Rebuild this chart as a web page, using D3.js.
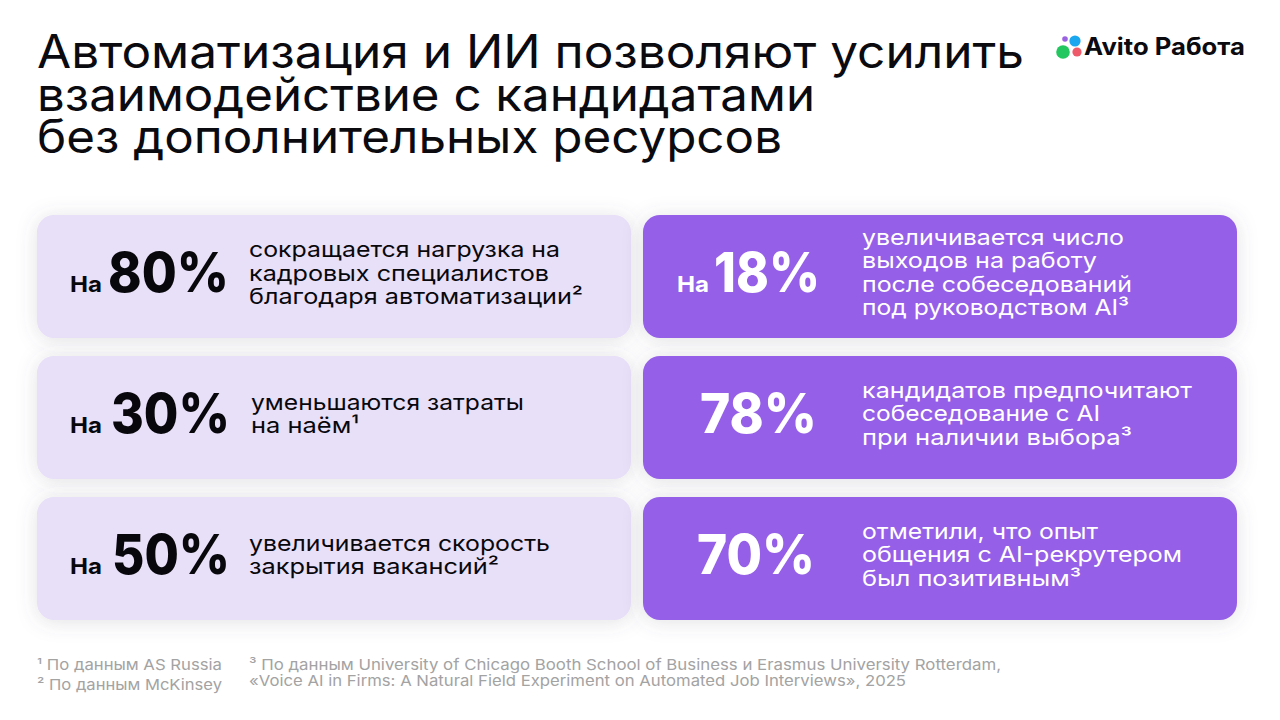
<!DOCTYPE html>
<html lang="ru">
<head>
<meta charset="utf-8">
<script src="https://cdn.jsdelivr.net/npm/d3@7"></script>
<style>
    html, body { margin: 0; background: #fff; }
    svg { display: block; }
    text { font-family: Inter, "Open Sans", sans-serif; }
</style>
</head>
<body>
<svg id="chart" width="1280" height="720"></svg>
<script>
'use strict'

const titleLines = [
    'Автоматизация и ИИ позволяют усилить',
    'взаимодействие с кандидатами',
    'без дополнительных ресурсов',
]
const columns = ['left', 'right']
const rows = [0, 1, 2]
const percents = [80, 30, 50, 18, 78, 70]
const prefixes = ['На', 'На', 'На', 'На', '', '']
const captions = [
    ['сокращается нагрузка на', 'кадровых специалистов', 'благодаря автоматизации²'],
    ['уменьшаются затраты', 'на наём¹'],
    ['увеличивается скорость', 'закрытия вакансий²'],
    ['увеличивается число', 'выходов на работу', 'после собеседований', 'под руководством AI³'],
    ['кандидатов предпочитают', 'собеседование с AI', 'при наличии выбора³'],
    ['отметили, что опыт', 'общения с AI-рекрутером', 'был позитивным³'],
]
const footnotesLeft = ['¹ По данным AS Russia', '² По данным McKinsey']
const footnotesRight = [
    '³ По данным University of Chicago Booth School of Business и Erasmus University Rotterdam,',
    '«Voice AI in Firms: A Natural Field Experiment on Automated Job Interviews», 2025',
]
const logoText = 'Avito Работа'

const captionEdges = [
    {x: 249, ends: [560, 549, 583]},
    {x: 251, ends: [524, 359]},
    {x: 249, ends: [550, 499]},
    {x: 862, ends: [1124, 1097, 1132, 1129]},
    {x: 862, ends: [1192, 1100, 1132]},
    {x: 862, ends: [1098, 1182, 1081]},
]
// right edges carry a few px extra for the side bearing of the % sign
const percentEdges = [[108, 229], [111, 230], [112, 230], [714, 820], [700, 817], [697, 815]]
const captionBaselines = [
    [42, 66, 89],
    [54, 77],
    [54, 77],
    [30, 53, 77, 100],
    [42, 65, 89],
    [42, 65, 89],
]

const svg = d3.select('#chart')

const xScale = d3.scaleBand().domain(columns).range([37, 1237]).paddingInner(12 / 606)
const yScale = d3.scaleBand().domain(rows).range([215, 620]).paddingInner(18 / 141)

// stretch a string to the width it has in the reference
function fitText(selection, x0, x1) {
    return selection
        .attr('x', x0)
        .attr('textLength', x1 - x0)
        .attr('lengthAdjust', 'spacingAndGlyphs')
}

const defs = svg.append('defs')
const shadow = defs.append('filter')
    .attr('id', 'card-shadow')
    .attr('x', '-5%').attr('y', '-20%')
    .attr('width', '110%').attr('height', '140%')
shadow.append('feDropShadow')
    .attr('dx', 0).attr('dy', 2)
    .attr('stdDeviation', 10)
    .attr('flood-color', '#5f5f6a')
    .attr('flood-opacity', 0.18)

titleLines.forEach(function (line, i) {
    svg.append('text')
        .text(line)
        .call(fitText, 37, [1024, 815, 782][i])
        .attr('y', [68, 111, 153][i])
        .attr('font-size', 46)
        .attr('font-weight', 400)
        .attr('fill', '#0a0a0f')
})

const cards = svg.selectAll('.card')
    .data(percents.map(function (value, i) {
        return {
            value: value,
            prefix: prefixes[i],
            lines: captions[i],
            column: columns[Math.floor(i / rows.length)],
            row: rows[i % rows.length],
            index: i,
        }
    }))
    .enter()
    .append('g')
    .attr('class', 'card')
    .attr('transform', function (d) {
        return 'translate(0 ' + yScale(d.row) + ')'
    })

cards.append('rect')
    .attr('x', function (d) { return xScale(d.column) })
    .attr('width', xScale.bandwidth())
    .attr('height', yScale.bandwidth())
    .attr('rx', 17)
    .attr('fill', function (d) { return d.column === 'left' ? '#e8dff8' : '#9561e7' })
    .attr('filter', 'url(#card-shadow)')

function inkColor(d) {
    return d.column === 'left' ? '#08080c' : '#ffffff'
}

cards.filter(function (d) { return d.prefix !== '' })
    .append('text')
    .text(function (d) { return d.prefix })
    .each(function (d) {
        const x0 = d.column === 'left' ? 70 : 677
        d3.select(this).call(fitText, x0, x0 + 32)
    })
    .attr('y', 77)
    .attr('font-size', 22)
    .attr('font-weight', 700)
    .attr('fill', inkColor)

cards.append('text')
    .text(function (d) { return d.value + '%' })
    .each(function (d) {
        const edges = percentEdges[d.index]
        d3.select(this).call(fitText, edges[0], edges[1])
    })
    .attr('y', 77)
    .attr('font-size', 55)
    .attr('font-weight', 800)
    .attr('fill', inkColor)

cards.each(function (d) {
    const edges = captionEdges[d.index]
    const card = d3.select(this)
    d.lines.forEach(function (line, i) {
        card.append('text')
            .text(line)
            .call(fitText, edges.x, edges.ends[i])
            .attr('y', captionBaselines[d.index][i])
            .attr('font-size', 22)
            .attr('fill', inkColor(d))
    })
})

footnotesLeft.forEach(function (line, i) {
    svg.append('text')
        .text(line)
        .call(fitText, 37, 222)
        .attr('y', [670, 690][i])
        .attr('font-size', 15)
        .attr('fill', '#a3a3a3')
})
footnotesRight.forEach(function (line, i) {
    svg.append('text')
        .text(line)
        .call(fitText, 249, [1001, 906][i])
        .attr('y', [670, 686][i])
        .attr('font-size', 15)
        .attr('fill', '#a3a3a3')
})

// logo: four dots and the wordmark
const logo = svg.append('g').attr('class', 'logo')
logo.selectAll('circle')
    .data([
        {cx: 1063, cy: 52, r: 6.8, fill: '#23c75f'},
        {cx: 1075, cy: 41, r: 5.6, fill: '#1ba6f0'},
        {cx: 1077, cy: 52, r: 4.6, fill: '#ee5a6a'},
        {cx: 1065, cy: 39, r: 2.8, fill: '#9a62e0'},
    ])
    .enter()
    .append('circle')
    .attr('cx', function (d) { return d.cx })
    .attr('cy', function (d) { return d.cy })
    .attr('r', function (d) { return d.r })
    .attr('fill', function (d) { return d.fill })
logo.append('text')
    .text(logoText)
    .call(fitText, 1084, 1245)
    .attr('y', 55)
    .attr('font-size', 24)
    .attr('font-weight', 700)
    .attr('fill', '#0a0a0f')
</script>
</body>
</html>
